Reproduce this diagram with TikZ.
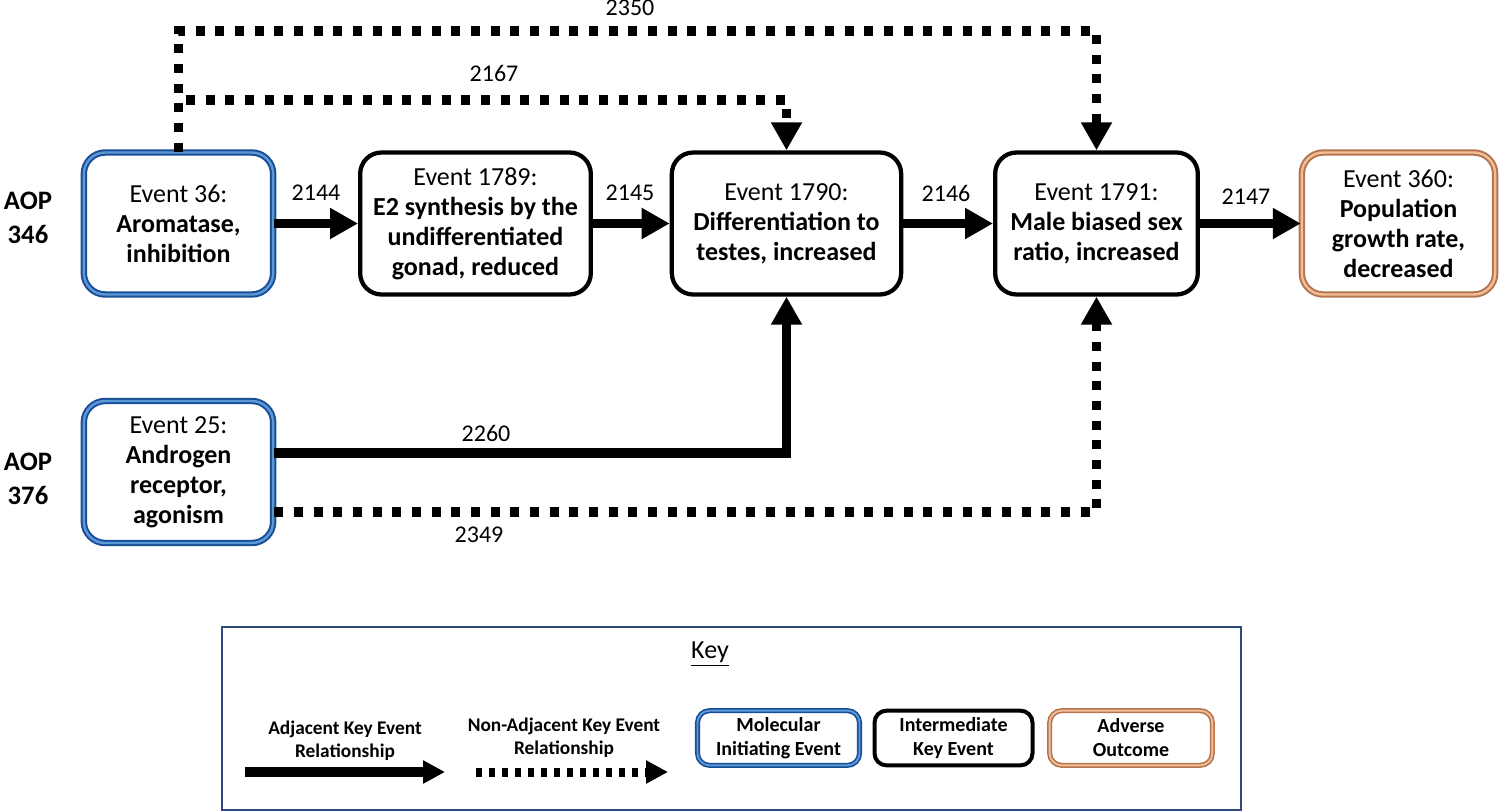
\documentclass[tikz,border=0pt]{standalone}
\usepackage{fontspec}
\setmainfont{Carlito}
\usetikzlibrary{arrows.meta}

\definecolor{miedark}{RGB}{24,78,152}
\definecolor{mielight}{RGB}{92,152,212}
\definecolor{aodark}{RGB}{180,116,80}
\definecolor{aolight}{RGB}{242,190,150}
\definecolor{keyframe}{RGB}{47,75,124}

\tikzset{every picture/.style={line width=0.75pt}}
\tikzset{
  event/.style={rounded corners=16pt, align=center, inner sep=0pt, minimum height=106.5pt, font=\fontsize{19.5}{22.5}\selectfont},
  ike/.style={event, draw=black, line width=3.2pt},
  mie/.style={event, draw=miedark, double=mielight, double distance=1.8pt, line width=1.5pt},
  ao/.style={event, draw=aodark, double=aolight, double distance=1.8pt, line width=1.5pt},
  keybox/.style={rounded corners=9pt, align=center, inner sep=0pt, minimum height=41pt, font=\fontsize{15}{18}\selectfont\bfseries},
  adj/.style={line width=7pt, -{Triangle[length=21pt,width=22pt]}},
  nonadj/.style={line width=7pt, dash pattern=on 6.75pt off 8pt, -{Triangle[length=21pt,width=22pt]}},
  lbl/.style={inner sep=0pt, font=\fontsize{18}{20}\selectfont},
  aop/.style={inner sep=0pt, align=center, font=\fontsize{20}{26}\selectfont\bfseries},
  keytxt/.style={inner sep=0pt, align=center, font=\fontsize{14.5}{17}\selectfont\bfseries}
}

\begin{document}
\begin{tikzpicture}[x=0.75pt,y=0.75pt,yscale=-1,xscale=1]
\path[use as bounding box] (0,0) rectangle (1500,811);

%Shape: Rounded Rect (events)
\draw (178.5,223.5) node [mie, minimum width=142pt] (e36) {Event 36:\\\textbf{Aromatase,}\\\textbf{inhibition}};
\draw (475.5,223.5) node [ike, minimum width=173pt] (e1789) {Event 1789:\\\textbf{E2 synthesis by the}\\\textbf{undifferentiated}\\\textbf{gonad, reduced}};
\draw (786.5,223.5) node [ike, minimum width=172pt] (e1790) {Event 1790:\\\textbf{Differentiation to}\\\textbf{testes, increased}};
\draw (1096.5,223.5) node [ike, minimum width=152pt] (e1791) {Event 1791:\\\textbf{Male biased sex}\\\textbf{ratio, increased}};
\draw (1398.5,223.5) node [ao, minimum width=145pt] (e360) {Event 360:\\\textbf{Population}\\\textbf{growth rate,}\\\textbf{decreased}};
\draw (178.5,472) node [mie, minimum width=142pt] (e25) {Event 25:\\\textbf{Androgen}\\\textbf{receptor,}\\\textbf{agonism}};

% Text Node
\draw (28,218) node [aop] (aop346) {AOP\\346};
% Text Node
\draw (28,479) node [aop] (aop376) {AOP\\376};

%Straight Lines (adjacent)
\draw [adj] (e36) -- (e1789);
\draw [adj] (e1789) -- (e1790);
\draw [adj] (e1790) -- (e1791);
\draw [adj] (e1791) -- (e360);
\draw [adj] (e25.east |- 0,453) -| (e1790.south);

%Straight Lines (non-adjacent)
\draw [nonadj] (e36.north) -- (e36.north |- 0,100) -| (e1790.north);
\draw [nonadj] (e36.north) -- (e36.north |- 0,31) -| (e1791.north);
\draw [nonadj] (e25.east |- 0,512) -| (e1791.south);

% Text Node
\draw (316,193) node [lbl] (l2144) {2144};
\draw (630,193) node [lbl] (l2145) {2145};
\draw (946,193) node [lbl] (l2146) {2146};
\draw (1246,197) node [lbl] (l2147) {2147};
\draw (494,73) node [lbl] (l2167) {2167};
\draw (630,8) node [lbl] (l2350) {2350};
\draw (486,433) node [lbl] (l2260) {2260};
\draw (479,535) node [lbl] (l2349) {2349};

%Shape: Rectangle (key)
\draw [keyframe, line width=1.5pt] (222,627) rectangle (1241,810);
% Text Node
\draw (710,654) node [lbl, font=\fontsize{19.5}{22}\selectfont] (keyttl) {\underline{Key}};

\coordinate (ka1) at (245,772);
\coordinate (ka2) at (445,772);
\coordinate (kb1) at (476,772);
\coordinate (kb2) at (668,772);
\draw [line width=7.5pt, -{Triangle[length=16.5pt,width=16.5pt]}] (ka1) -- (ka2);
\draw [line width=6.75pt, dash pattern=on 4.5pt off 5.25pt, -{Triangle[length=16.5pt,width=16.5pt]}] (kb1) -- (kb2);
% Text Node
\draw (345,741) node [keytxt] (kadj) {Adjacent Key Event\\Relationship};
\draw (564,738) node [keytxt] (knon) {Non-Adjacent Key Event\\Relationship};

\draw (778.5,738) node [keybox, draw=miedark, double=mielight, double distance=1.4pt, line width=1.2pt, minimum width=121.5pt] (kmie) {Molecular\\Initiating Event};
\draw (953.5,738) node [keybox, draw=black, line width=3pt, minimum width=118.5pt] (kike) {Intermediate\\Key Event};
\draw (1131,738) node [keybox, draw=aodark, double=aolight, double distance=1.4pt, line width=1.2pt, minimum width=122pt] (kao) {Adverse\\Outcome};

\end{tikzpicture}
\end{document}
